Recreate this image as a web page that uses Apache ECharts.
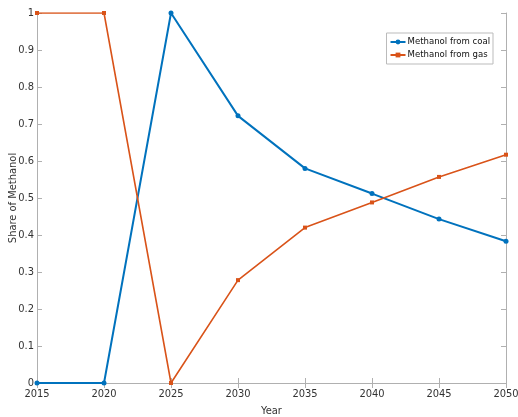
<!DOCTYPE html>
<html>
<head>
<meta charset="utf-8">
<script src="https://cdn.jsdelivr.net/npm/echarts@6/dist/echarts.min.js"></script>
<style>
  html, body { margin: 0; padding: 0; background: #fff; }
  #chart { width: 518px; height: 417px; }
</style>
</head>
<body>
<div id="chart"></div>
<script>
// 数据
var years = [2015, 2020, 2025, 2030, 2035, 2040, 2045, 2050];
var coalShare = [0, 0, 1, 0.722, 0.580, 0.512, 0.443, 0.383];
var gasShare = [1, 1, 0, 0.278, 0.420, 0.488, 0.557, 0.617];

var chart = echarts.init(document.getElementById('chart'));

function pairs(vals) {
  return years.map(function (y, i) { return [y, vals[i]]; });
}

var axisColor = '#b0b0b0';
var narrowFont = '"Liberation Sans Narrow", "DejaVu Sans Condensed", "Liberation Sans", Arial';
var labelStyle = { color: '#333', fontSize: 11, fontFamily: narrowFont };

var option = {
  animation: false,
  grid: { left: 37, right: 12, top: 13, bottom: 34, containLabel: false, outerBoundsMode: 'none' },
  legend: {
    right: 25,
    top: 33,
    orient: 'vertical',
    itemWidth: 15,
    itemHeight: 6,
    itemGap: 3,
    padding: [4, 3],
    borderColor: '#bbb',
    borderWidth: 1,
    backgroundColor: '#fff',
    textStyle: { color: '#111', fontSize: 9.5, fontFamily: narrowFont, padding: [0, 0, 0, -3] },
    data: ['Methanol from coal', 'Methanol from gas']
  },
  xAxis: [{
    type: 'value',
    min: 2015, max: 2050, interval: 5,
    name: 'Year', nameLocation: 'middle', nameGap: 23,
    nameTextStyle: labelStyle,
    axisLine: { lineStyle: { color: axisColor } },
    axisTick: { inside: true, length: 5, lineStyle: { color: axisColor } },
    axisLabel: Object.assign({ margin: 6, formatter: function (v) { return String(v); } }, labelStyle),
    splitLine: { show: false }
  }, {
    type: 'value', position: 'top',
    min: 2015, max: 2050, interval: 5,
    axisLine: { show: true, lineStyle: { color: axisColor } },
    axisTick: { inside: true, length: 5, lineStyle: { color: axisColor } },
    axisLabel: { show: false },
    splitLine: { show: false }
  }],
  yAxis: [{
    type: 'value',
    min: 0, max: 1, interval: 0.1,
    name: 'Share of Methanol', nameLocation: 'middle', nameGap: 18,
    nameMoveOverlap: false,
    nameTextStyle: labelStyle,
    axisLine: { show: true, lineStyle: { color: axisColor } },
    axisTick: { show: true, inside: true, length: 5, lineStyle: { color: axisColor } },
    axisLabel: Object.assign({ margin: 3, formatter: function (v) { return String(+v.toFixed(1)); } }, labelStyle),
    splitLine: { show: false }
  }, {
    type: 'value', position: 'right',
    min: 0, max: 1, interval: 0.1,
    axisLine: { show: true, lineStyle: { color: axisColor } },
    axisTick: { show: true, inside: true, length: 5, lineStyle: { color: axisColor } },
    axisLabel: { show: false },
    splitLine: { show: false }
  }],
  series: [{
    name: 'Methanol from coal',
    type: 'line',
    data: pairs(coalShare),
    symbol: 'circle',
    symbolSize: 5,
    color: '#0072BD',
    lineStyle: { width: 2 }
  }, {
    name: 'Methanol from gas',
    type: 'line',
    data: pairs(gasShare),
    symbol: 'rect',
    symbolSize: 4,
    color: '#D95319',
    lineStyle: { width: 1.6 }
  }]
};

chart.setOption(option);
</script>
</body>
</html>
